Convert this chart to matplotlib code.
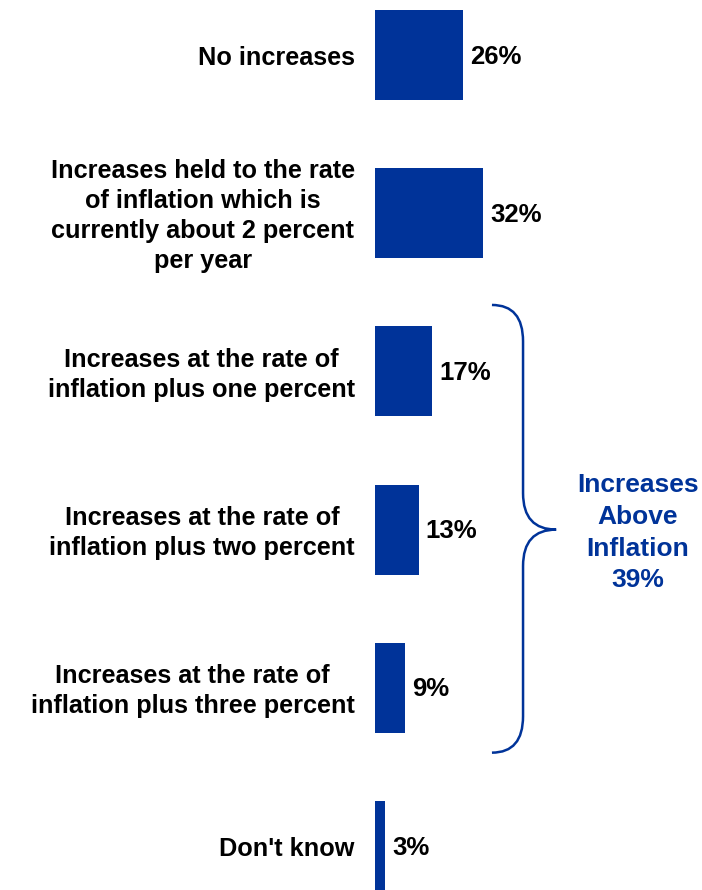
import matplotlib.pyplot as plt
from matplotlib.path import Path
from matplotlib.patches import PathPatch

plt.rcParams['font.family'] = ['Liberation Sans', 'DejaVu Sans']

categories = [
    "No increases",
    "Increases held to the rate\nof inflation which is\ncurrently about 2 percent\nper year",
    "Increases at the rate of\ninflation plus one percent",
    "Increases at the rate of\ninflation plus two percent",
    "Increases at the rate of\ninflation plus three percent",
    "Don't know",
]
values = [26, 32, 17, 13, 9, 3]
group_idx = [2, 3, 4]          # bars covered by the brace
group_label = "Increases\nAbove\nInflation\n39%"

BLUE = "#003399"

fig = plt.figure(figsize=(7.02, 8.90), dpi=100)
ax = fig.add_axes([375 / 702, 0, 1 - 375 / 702, 1])
ax.set_xlim(0, 327 / 3.38)
ax.set_ylim((890 - 55) / 158.2, -55 / 158.2)
ax.axis("off")

pos = list(range(len(values)))
ax.barh(pos, values, height=0.57, color=BLUE, left=0)

for y, v, lab in zip(pos, values, categories):
    ax.text(v + 2.0, y + 0.01, f"{v}%", ha="left", va="center",
            fontsize=18.5, fontweight="bold", color="black")
    ax.text(-6.0, y + 0.02, lab, ha="right", va="center", multialignment="center",
            fontsize=18.2, fontweight="bold", color="black", linespacing=1.32,
            clip_on=False)

# curly brace around the "above inflation" group
top = group_idx[0] - 0.42
bot = group_idx[-1] + 0.41
mid = (group_idx[0] + group_idx[-1]) / 2
x0, xm, xt = 34.6, 43.8, 53.6
r = 0.23
verts = [
    (x0, top), (xm, top), (xm, top + r),
    (xm, mid - r), (xm, mid), (xt, mid),
    (xm, mid), (xm, mid + r),
    (xm, bot - r), (xm, bot), (x0, bot),
]
codes = [
    Path.MOVETO, Path.CURVE3, Path.CURVE3,
    Path.LINETO, Path.CURVE3, Path.CURVE3,
    Path.CURVE3, Path.CURVE3,
    Path.LINETO, Path.CURVE3, Path.CURVE3,
]
ax.add_patch(PathPatch(Path(verts, codes), fill=False, edgecolor=BLUE,
                       linewidth=1.8, clip_on=False))

ax.text((638 - 375) / 3.38, mid + 0.02, group_label, ha="center", va="center",
        multialignment="center", fontsize=19, fontweight="bold",
        color=BLUE, linespacing=1.4)

fig.savefig("out.png", dpi=100)
